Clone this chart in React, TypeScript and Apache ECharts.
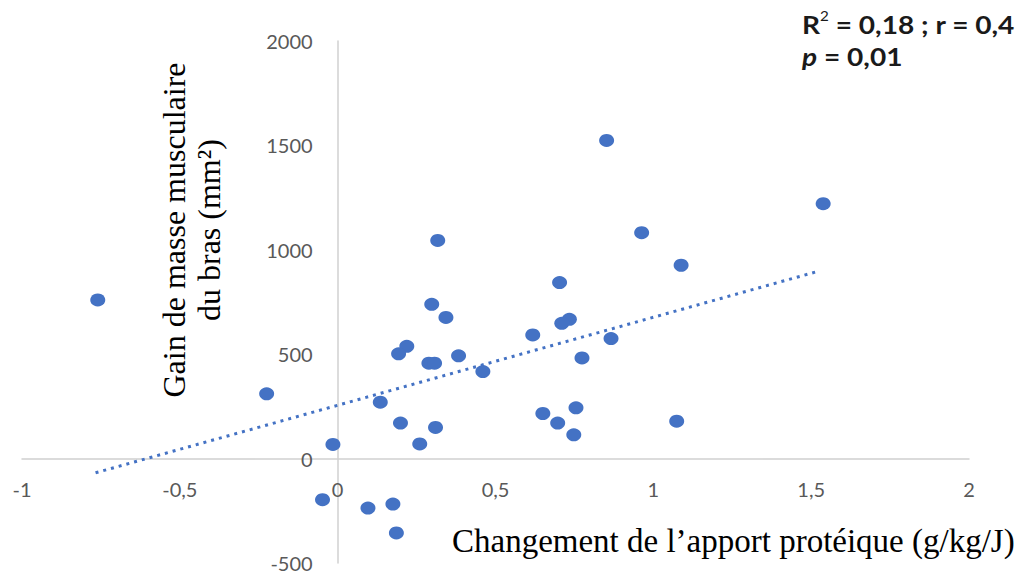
import React, { useEffect, useRef } from "react";
import * as echarts from "echarts";

// Changement de l'apport protéique (g/kg/J)
const proteinChange = [
  -0.76, -0.225, -0.015, -0.048, 0.096, 0.175, 0.186, 0.26, 0.317, 0.298, 0.343, 0.219,
  0.193, 0.289, 0.307, 0.383, 0.46, 0.135, 0.199, 0.31, 0.852, 0.963, 1.088, 0.703,
  0.734, 0.71, 0.618, 0.866, 0.774, 0.65, 0.755, 0.697, 0.748, 1.074, 1.538,
];
// Gain de masse musculaire du bras (mm²)
const muscleGain = [
  760, 310, 68, -197, -237, -218, -356, 70, 1045, 739, 676, 538,
  502, 457, 457, 492, 417, 270, 170, 149, 1524, 1082, 926, 843,
  667, 648, 592, 575, 482, 216, 243, 170, 114, 179, 1221,
];
// Linear trendline end points (as drawn)
const trendX = [-0.767, 1.515];
const trendY = [-68, 894];

const xTickMin = -1;
const xTickMax = 2;
const xTickStep = 0.5;
const yTickMin = -500;
const yTickMax = 2000;
const yTickStep = 500;

const xTitle = "Changement de l’apport protéique (g/kg/J)";
const yTitleLines = ["Gain de masse musculaire", "du bras (mm²)"];
const statR2 = "0,18";
const statR = "0,4";
const statP = "0,01";

const BLUE = "#4472C4";

export default function App() {
  const ref = useRef<HTMLDivElement>(null);
  useEffect(() => {
    if (!ref.current) return;
    const chart = echarts.init(ref.current, undefined, { renderer: "svg" });
    const points = proteinChange.map((x, i) => [x, muscleGain[i]]);
    const trend = trendX.map((x, i) => [x, trendY[i]]);
    const fmt = (v: number) => String(v).replace(".", ",");
    const tickFont = {
      color: "#595959",
      fontFamily: "Lato",
      fontSize: 20,
    };
    const gLeft = 22;
    const gRight = 50;
    const gTop = 41;
    const gBottom = 11;
    const gW = 1019 - gLeft - gRight;
    const gH = 574 - gTop - gBottom;
    // axes cross at zero: shift each axis (line + labels) to the other axis' zero
    const xOffset = -(gH * (0 - yTickMin)) / (yTickMax - yTickMin);
    const yOffset = -(gW * (0 - xTickMin)) / (xTickMax - xTickMin);
    chart.setOption({
      animation: false,
      backgroundColor: "#ffffff",
      grid: {
        left: gLeft,
        right: gRight,
        top: gTop,
        bottom: gBottom,
        containLabel: false,
        outerBoundsMode: "none",
      },
      xAxis: {
        type: "value",
        position: "bottom",
        offset: xOffset,
        min: xTickMin,
        max: xTickMax,
        interval: xTickStep,
        splitLine: { show: false },
        axisTick: { show: false },
        axisLine: { show: true, onZero: false, lineStyle: { color: "#d0d0d0", width: 1.5 } },
        axisLabel: { ...tickFont, margin: 20, formatter: fmt, showMinLabel: true, showMaxLabel: true },
      },
      yAxis: {
        type: "value",
        position: "left",
        offset: yOffset,
        min: yTickMin,
        max: yTickMax,
        interval: yTickStep,
        splitLine: { show: false },
        axisTick: { show: false },
        axisLine: { show: true, onZero: false, lineStyle: { color: "#d0d0d0", width: 1.5 } },
        axisLabel: { ...tickFont, margin: 25, formatter: fmt, showMinLabel: true, showMaxLabel: true },
      },
      series: [
        {
          type: "line",
          data: trend,
          showSymbol: false,
          symbol: "none",
          z: 1,
          lineStyle: { color: BLUE, width: 3, type: [3, 5] },
        },
        {
          type: "scatter",
          data: points,
          symbol: "circle",
          symbolSize: [15, 13],
          z: 3,
          itemStyle: { color: BLUE, opacity: 1 },
        },
      ],
      graphic: [
        {
          type: "text",
          x: 191,
          y: 230,
          rotation: Math.PI / 2,
          style: {
            text: yTitleLines.join("\n"),
            fill: "#000000",
            font: '32px "Liberation Serif"',
            lineHeight: 35,
            textAlign: "center",
            textVerticalAlign: "middle",
          },
        },
        {
          type: "text",
          x: 452,
          y: 541,
          style: {
            text: xTitle,
            fill: "#000000",
            font: '33px "Liberation Serif"',
            textAlign: "left",
            textVerticalAlign: "middle",
          },
        },
        {
          type: "text",
          x: 802,
          y: 41,
          scaleX: 1.17,
          style: {
            text: `{b|R}{s|2}{b| = ${statR2} ; r = ${statR}}\n{i|p}{b| = ${statP}}`,
            textAlign: "left",
            textVerticalAlign: "middle",
            rich: {
              b: { fontFamily: "Lato", fontWeight: "bold", fontSize: 24, fill: "#1a1a1a", lineHeight: 32 },
              i: { fontFamily: "Lato", fontWeight: "bold", fontStyle: "italic", fontSize: 24, fill: "#1a1a1a", lineHeight: 32 },
              s: { fontFamily: "Lato", fontSize: 13, fill: "#1a1a1a", verticalAlign: "top", lineHeight: 32 },
            },
          },
        },
      ],
    });
    return () => chart.dispose();
  }, []);
  return (
    <div
      ref={ref}
      style={{ position: "fixed", left: 0, top: 0, width: 1019, height: 574 }}
    />
  );
}
